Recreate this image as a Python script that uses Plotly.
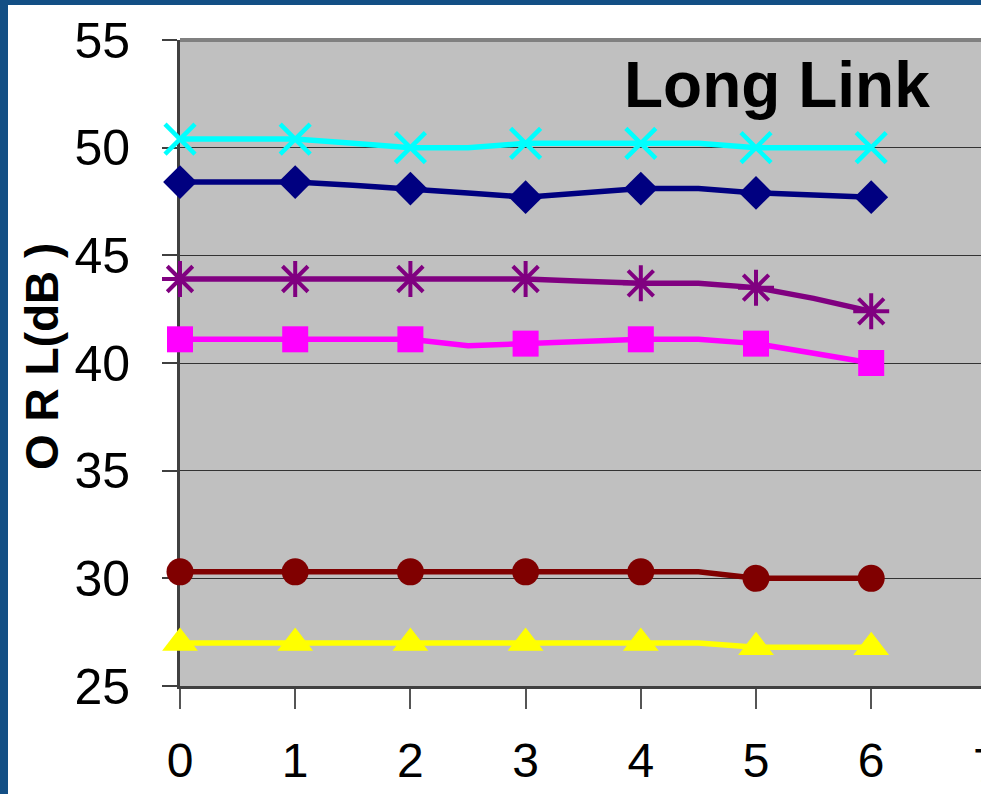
import plotly.graph_objects as go

# Measurement positions (half steps; markers sit on whole steps)
x_pos = [0, 0.5, 1, 1.5, 2, 2.5, 3, 3.5, 4, 4.5, 5, 5.5, 6]

orl_cyan = [50.4, 50.4, 50.4, 50.2, 50.0, 50.0, 50.2, 50.2, 50.2, 50.2, 50.0, 50.0, 50.0]
orl_navy = [48.4, 48.4, 48.4, 48.25, 48.1, 47.9, 47.7, 47.9, 48.1, 48.1, 47.9, 47.8, 47.7]
orl_purple = [43.9, 43.9, 43.9, 43.9, 43.9, 43.9, 43.9, 43.8, 43.7, 43.7, 43.5, 43.0, 42.4]
orl_magenta = [41.1, 41.1, 41.1, 41.1, 41.1, 40.8, 40.9, 41.05, 41.1, 41.1, 40.9, 40.45, 40.0]
orl_maroon = [30.3, 30.3, 30.3, 30.3, 30.3, 30.3, 30.3, 30.3, 30.3, 30.3, 30.0, 30.0, 30.0]
orl_yellow = [27.0, 27.0, 27.0, 27.0, 27.0, 27.0, 27.0, 27.0, 27.0, 27.0, 26.8, 26.8, 26.8]

x_ticks = [0, 1, 2, 3, 4, 5, 6]
x_tick_labels = ["0", "1", "2", "3", "4", "5", "6"]
x_extra_label = "7"
y_ticks = [25, 30, 35, 40, 45, 50, 55]
y_tick_labels = ["25", "30", "35", "40", "45", "50", "55"]

title_text = "Long Link"
y_title = "O R L(dB )"

W, H = 981, 794
ML, MR, MT, MB = 180, 0, 40, 108
PW, PH = W - ML - MR, H - MT - MB
X_MAX = 6.953

SANS = "Liberation Sans, Arial, sans-serif"


def px_x(p):
    return (p - ML) / PW


def px_y(q):
    return (H - MB - q) / PH


series = [
    (orl_cyan, "#00FFFF", "x-thin-open", 30, 4.5),
    (orl_navy, "#000080", "diamond", 26, 0),
    (orl_purple, "#800080", "asterisk-open", 30, 4),
    (orl_magenta, "#FF00FF", "square", 26, 0),
    (orl_maroon, "#800000", "circle", 27, 0),
    (orl_yellow, "#FFFF00", "triangle-up", 31, 0),
]

fig = go.Figure()
for vals, color, symbol, msize, mline in series:
    fig.add_trace(go.Scatter(
        x=x_pos, y=vals, mode="lines",
        line=dict(color=color, width=5.5),
        cliponaxis=False, showlegend=False, hoverinfo="skip",
    ))
    xs = [x for x in x_pos if float(x).is_integer()]
    ys = [v for x, v in zip(x_pos, vals) if float(x).is_integer()]
    fig.add_trace(go.Scatter(
        x=xs, y=ys, mode="markers",
        marker=dict(symbol=symbol, size=msize, color=color,
                    line=dict(color=color, width=mline)),
        cliponaxis=False, showlegend=False,
    ))

fig.update_layout(
    width=W, height=H,
    margin=dict(l=ML, r=MR, t=MT, b=MB, pad=0, autoexpand=False),
    paper_bgcolor="white",
    plot_bgcolor="#C0C0C0",
    showlegend=False,
    xaxis=dict(
        range=[0, X_MAX], tickmode="array", tickvals=x_ticks, ticktext=x_tick_labels,
        showgrid=False, zeroline=False,
        showline=True, linecolor="#404040", linewidth=3,
        ticks="outside", ticklen=20, tickwidth=1.5, tickcolor="#555555",
        tickfont=dict(family=SANS, size=48, color="black"),
        ticklabelstandoff=10, layer="below traces",
    ),
    yaxis=dict(
        range=[25, 55], tickmode="array", tickvals=y_ticks, ticktext=y_tick_labels,
        showgrid=True, gridcolor="#333333", gridwidth=1, zeroline=False,
        showline=True, linecolor="#404040", linewidth=3,
        ticks="outside", ticklen=15, tickwidth=1.5, tickcolor="#404040",
        tickfont=dict(family=SANS, size=50, color="black"),
        ticklabelstandoff=22, layer="below traces",
    ),
    shapes=[
        # top border of the plotting area
        dict(type="line", xref="paper", yref="paper", x0=0, x1=1, y0=1, y1=1,
             line=dict(color="#808080", width=4), layer="above"),
        # slide frame
        dict(type="rect", xref="paper", yref="paper",
             x0=px_x(0), x1=px_x(8), y0=px_y(H), y1=px_y(0),
             fillcolor="#134F85", line=dict(width=0), layer="above"),
        dict(type="rect", xref="paper", yref="paper",
             x0=px_x(0), x1=px_x(W), y0=px_y(5), y1=px_y(0),
             fillcolor="#134F85", line=dict(width=0), layer="above"),
    ],
    annotations=[
        dict(text=title_text, xref="paper", yref="paper",
             x=px_x(622), y=px_y(85), xanchor="left", yanchor="middle",
             showarrow=False, font=dict(family=SANS, size=64, color="black", weight="bold")),
        dict(text="<b>" + y_title + "</b>", xref="paper", yref="paper",
             x=px_x(42), y=px_y(357), xanchor="center", yanchor="middle", textangle=-90,
             showarrow=False, font=dict(family=SANS, size=46, color="black")),
        dict(text=x_extra_label, xref="paper", yref="paper",
             x=px_x(180 + 7 * 115.2), y=px_y(765), xanchor="center", yanchor="middle",
             showarrow=False, font=dict(family=SANS, size=48, color="black")),
    ],
)

fig.write_html("out.html")
